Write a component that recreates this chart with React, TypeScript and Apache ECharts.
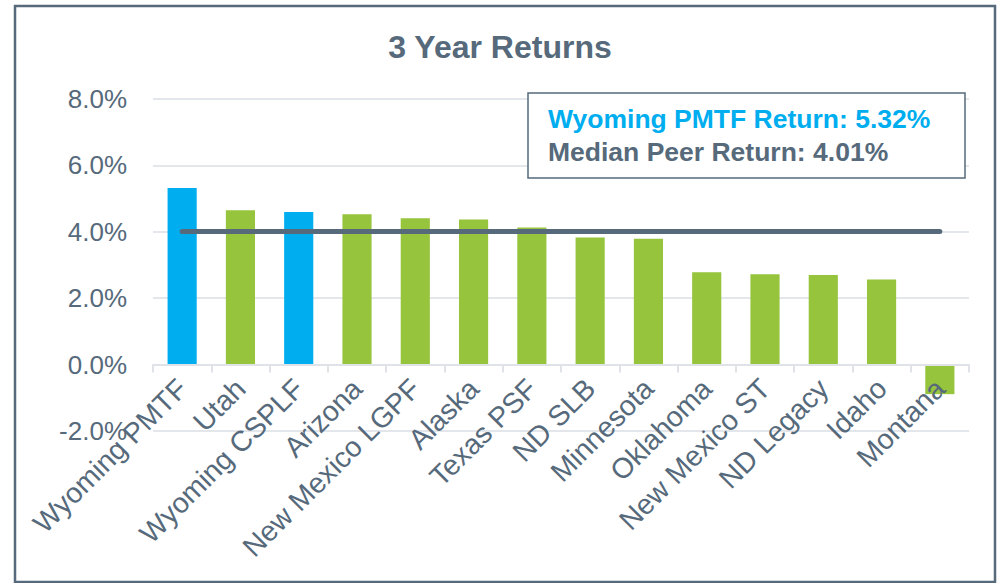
import React, { useEffect, useRef } from "react";
import * as echarts from "echarts";

const categories = [
  "Wyoming PMTF", "Utah", "Wyoming CSPLF", "Arizona", "New Mexico LGPF", "Alaska",
  "Texas PSF", "ND SLB", "Minnesota", "Oklahoma", "New Mexico ST", "ND Legacy",
  "Idaho", "Montana",
];
const returns = [5.32, 4.65, 4.6, 4.53, 4.41, 4.37, 4.13, 3.83, 3.79, 2.78, 2.72, 2.7, 2.56, -0.89];
const wyomingFunds = ["Wyoming PMTF", "Wyoming CSPLF"];
const medianReturn = 4.01;
const yTicks = { min: -2, max: 8, interval: 2 };

const BLUE = "#00aeef";
const GREEN = "#96c43d";
const SLATE = "#566a7b";

export default function App() {
  const ref = useRef<HTMLDivElement>(null);
  useEffect(() => {
    if (!ref.current) return;
    const chart = echarts.init(ref.current, null, { renderer: "svg" });
    const font = "Liberation Sans, Arial, sans-serif";
    const gridTop = 99;
    const gridBottom = 152;
    const gridHeight = 583 - gridTop - gridBottom;
    const zeroOffset = (gridHeight * (0 - yTicks.min)) / (yTicks.max - yTicks.min);
    chart.setOption({
      animation: false,
      textStyle: { fontFamily: font },
      title: {
        text: "3 Year Returns",
        left: "center",
        top: 26,
        textStyle: { fontSize: 32, fontWeight: "bold", color: SLATE, fontFamily: font },
      },
      grid: {
        left: 153,
        right: 31,
        top: gridTop,
        bottom: gridBottom,
        containLabel: false,
        outerBoundsMode: "none",
      },
      xAxis: {
        type: "category",
        data: categories,
        position: "bottom",
        offset: -zeroOffset,
        z: 10,
        axisLine: { onZero: false, lineStyle: { color: "#dfe3e8", width: 2 } },
        axisTick: { show: true, length: 8, lineStyle: { color: "#dfe3e8", width: 2 } },
        axisLabel: { rotate: 45, fontSize: 28.5, color: SLATE, margin: 19, interval: 0, fontFamily: font },
        splitLine: { show: false },
      },
      yAxis: {
        type: "value",
        min: yTicks.min,
        max: yTicks.max,
        interval: yTicks.interval,
        axisLine: { show: false },
        axisTick: { show: false },
        axisLabel: {
          fontSize: 26,
          color: SLATE,
          margin: 26,
          fontFamily: font,
          formatter: (v: number) => v.toFixed(1) + "%",
        },
        splitLine: { lineStyle: { color: "#e3e6ea", width: 2 } },
      },
      series: [
        {
          type: "bar",
          barWidth: "50%",
          z: 2,
          data: returns.map((v, i) => ({
            value: v,
            itemStyle: { color: wyomingFunds.includes(categories[i]) ? BLUE : GREEN },
          })),
        },
        {
          type: "line",
          data: categories.map(() => medianReturn),
          symbol: "none",
          lineStyle: { color: SLATE, width: 5, cap: "round" },
          z: 5,
        },
      ],
      graphic: [
        {
          type: "rect",
          shape: { x: 15, y: 6, width: 980, height: 576 },
          style: { fill: "none", stroke: SLATE, lineWidth: 2.5 },
          silent: true,
        },
        {
          type: "rect",
          shape: { x: 528, y: 93, width: 437, height: 85 },
          style: { fill: "#fff", stroke: SLATE, lineWidth: 1.5 },
          z: 10,
        },
        {
          type: "text",
          x: 548,
          y: 105,
          z: 11,
          style: {
            text: `Wyoming PMTF Return: ${returns[0].toFixed(2)}%`,
            fill: BLUE,
            font: `bold 26.5px ${font}`,
          },
        },
        {
          type: "text",
          x: 548,
          y: 138,
          z: 11,
          style: {
            text: `Median Peer Return: ${medianReturn.toFixed(2)}%`,
            fill: SLATE,
            font: `bold 26.5px ${font}`,
          },
        },
      ],
    });
    return () => chart.dispose();
  }, []);
  return (
    <div
      ref={ref}
      style={{ position: "fixed", left: 0, top: 0, width: 1000, height: 583, background: "#fff" }}
    />
  );
}
